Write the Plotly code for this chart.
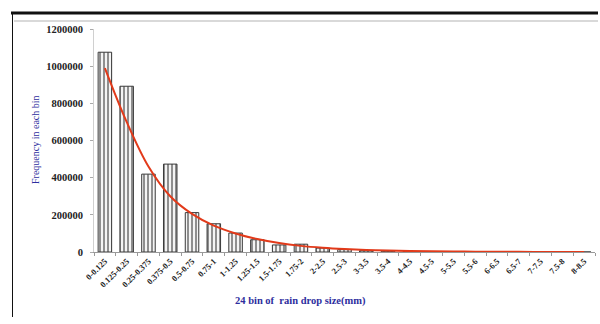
import plotly.graph_objects as go

# Rain drop size bins (mm)
bins = ["0-0.125", "0.125-0.25", "0.25-0.375", "0.375-0.5", "0.5-0.75", "0.75-1",
        "1-1.25", "1.25-1.5", "1.5-1.75", "1.75-2", "2-2.5", "2.5-3", "3-3.5",
        "3.5-4", "4-4.5", "4.5-5", "5-5.5", "5.5-6", "6-6.5", "6.5-7", "7-7.5",
        "7.5-8", "8-8.5"]

# Drop counts per bin
counts = [1075000, 892000, 419000, 473000, 212000, 152000, 102000, 66000, 38000,
          42000, 21000, 13000, 7000, 4500, 2500, 1500, 1000, 700, 500, 300, 200,
          150, 100]

# Fitted decay curve
trend = [990000, 700000, 460000, 300000, 205000, 142000, 100000, 70000, 48000,
         33000, 23000, 16000, 11000, 7500, 5000, 3500, 2500, 1700, 1200, 800,
         600, 400, 300]

y_ticks = [0, 200000, 400000, 600000, 800000, 1000000, 1200000]

W, H = 600, 324
L, R, T, B = 94, 5, 29, 72
pw, ph = W - L - R, H - T - B


def px(x):
    return (x - L) / pw


def py(y):
    return (H - B - y) / ph


serif = "Liberation Serif"
blue = "#2e2e9e"

fig = go.Figure()
fig.add_trace(go.Bar(
    x=bins, y=counts, width=0.62,
    marker=dict(color="white",
                line=dict(color="#3a3a3a", width=1),
                pattern=dict(shape="|", fgcolor="#2a2a2a", bgcolor="#f4f4f4",
                             size=4, solidity=0.5)),
    showlegend=False,
))
fig.add_trace(go.Scatter(
    x=bins, y=trend, mode="lines",
    line=dict(color="#e23a1a", width=2, shape="spline"),
    showlegend=False,
))

fig.update_layout(
    width=W, height=H,
    margin=dict(l=L, r=R, t=T, b=B),
    paper_bgcolor="white", plot_bgcolor="white",
    font=dict(family=serif, size=9, color="black", weight="bold"),
    xaxis=dict(
        tickangle=-45, showgrid=False, showline=True, linecolor="#999999",
        linewidth=1, ticks="outside", ticklen=3, tickcolor="#999999",
        tickson="boundaries",
        tickfont=dict(family=serif, size=8.5, color="#222222", weight="bold"),
    ),
    yaxis=dict(
        range=[0, 1200000], tickvals=y_ticks,
        ticktext=[str(v) for v in y_ticks],
        showgrid=False, zeroline=False, showline=True, linecolor="#d0d0d0",
        linewidth=1,
        ticks="outside", ticklen=3, tickcolor="#aaaaaa",
        ticklabelstandoff=5,
        tickfont=dict(family=serif, size=10.5, color="#222222", weight="bold"),
    ),
    # Outer frame: thick top edge and thin grey rule under it
    shapes=[
        dict(type="line", xref="paper", yref="paper",
             x0=px(11), x1=px(598), y0=py(13), y1=py(13),
             line=dict(color="#111111", width=3)),
        dict(type="line", xref="paper", yref="paper",
             x0=px(14), x1=px(598), y0=py(21), y1=py(21),
             line=dict(color="#cccccc", width=1.5)),
    ],
    annotations=[
        # Thick left edge of the frame, drawn as a filled strip
        dict(text=" ", xref="paper", yref="paper",
             x=px(12), y=py(12), xanchor="center", yanchor="top",
             width=1, height=305, bgcolor="#111111", borderpad=0,
             borderwidth=0, showarrow=False, font=dict(size=1)),
        dict(text="Frequency in each bin", xref="paper", yref="paper",
             x=px(35), y=py(140), xanchor="center", yanchor="middle",
             textangle=-90, showarrow=False,
             font=dict(family=serif, size=10, color=blue, weight="normal")),
        dict(text="24 bin of  rain drop size(mm)", xref="paper", yref="paper",
             x=px(300), y=py(301), xanchor="center", yanchor="middle",
             showarrow=False,
             font=dict(family=serif, size=10.5, color=blue, weight="bold")),
    ],
)

fig.write_html("out.html")
